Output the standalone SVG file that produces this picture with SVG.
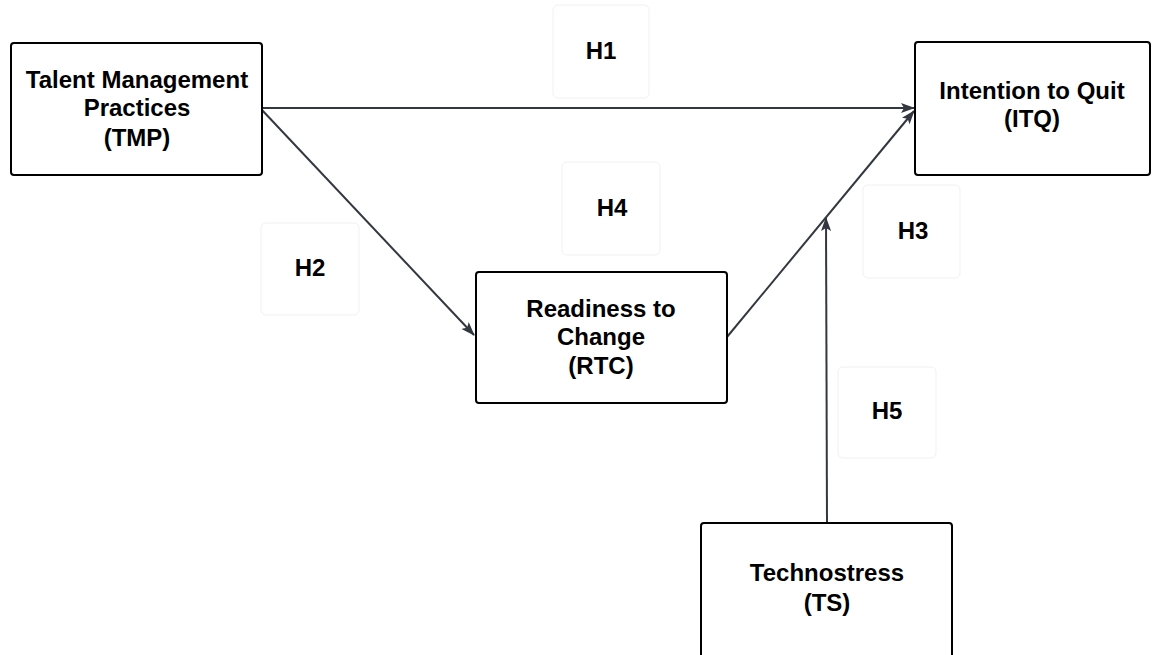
<svg xmlns="http://www.w3.org/2000/svg" width="1161" height="655" viewBox="0 0 1161 655">
<style>
.node{fill:#fff;stroke:#000;stroke-width:2}
.lab{fill:#fff;stroke:#f1f1f1;stroke-width:1}
.t{font-family:"Liberation Sans",Arial,sans-serif;font-weight:bold;font-size:24px;fill:#000;text-anchor:middle}
.c{fill:none;stroke:#333840;stroke-width:2}
</style>
<defs>
<marker id="ah" markerWidth="14" markerHeight="10" refX="13" refY="5" orient="auto" markerUnits="userSpaceOnUse">
<path d="M0,0 L14,5 L0,10 L3,5 Z" fill="#333840"/>
</marker>
</defs>
<rect width="1161" height="655" fill="#fff"/>
<g id="labels">
<g id="h1"><rect class="lab" x="553" y="5" width="96" height="93" rx="5"/><text class="t" x="601" y="59">H1</text></g>
<g id="h4"><rect class="lab" x="562" y="162" width="98" height="93" rx="5"/><text class="t" x="612" y="216">H4</text></g>
<g id="h2"><rect class="lab" x="261" y="223" width="98" height="92" rx="5"/><text class="t" x="310" y="276">H2</text></g>
<g id="h3"><rect class="lab" x="863" y="185" width="97" height="93" rx="5"/><text class="t" x="913" y="239">H3</text></g>
<g id="h5"><rect class="lab" x="838" y="367" width="98" height="91" rx="5"/><text class="t" x="887" y="419">H5</text></g>
</g>
<g id="connectors">
<line class="c" x1="262" y1="108" x2="914" y2="108" marker-end="url(#ah)"/>
<line class="c" x1="262" y1="110" x2="474" y2="335" marker-end="url(#ah)"/>
<line class="c" x1="727" y1="337" x2="914" y2="111" marker-end="url(#ah)"/>
<line class="c" x1="827" y1="523" x2="826" y2="218" marker-end="url(#ah)"/>
</g>
<g id="tmp"><rect class="node" x="11" y="43" width="251" height="132" rx="3"/>
<text class="t" x="137" y="88">Talent Management</text>
<text class="t" x="137" y="116">Practices</text>
<text class="t" x="137" y="146">(TMP)</text></g>
<g id="itq"><rect class="node" x="915" y="42" width="235" height="133" rx="3"/>
<text class="t" x="1032" y="99">Intention to Quit</text>
<text class="t" x="1032" y="127">(ITQ)</text></g>
<g id="rtc"><rect class="node" x="476" y="272" width="251" height="131" rx="3"/>
<text class="t" x="601" y="317">Readiness to</text>
<text class="t" x="601" y="345">Change</text>
<text class="t" x="601" y="374">(RTC)</text></g>
<g id="ts"><rect class="node" x="701" y="523" width="251" height="145" rx="3"/>
<text class="t" x="827" y="581">Technostress</text>
<text class="t" x="827" y="611">(TS)</text></g>
</svg>
